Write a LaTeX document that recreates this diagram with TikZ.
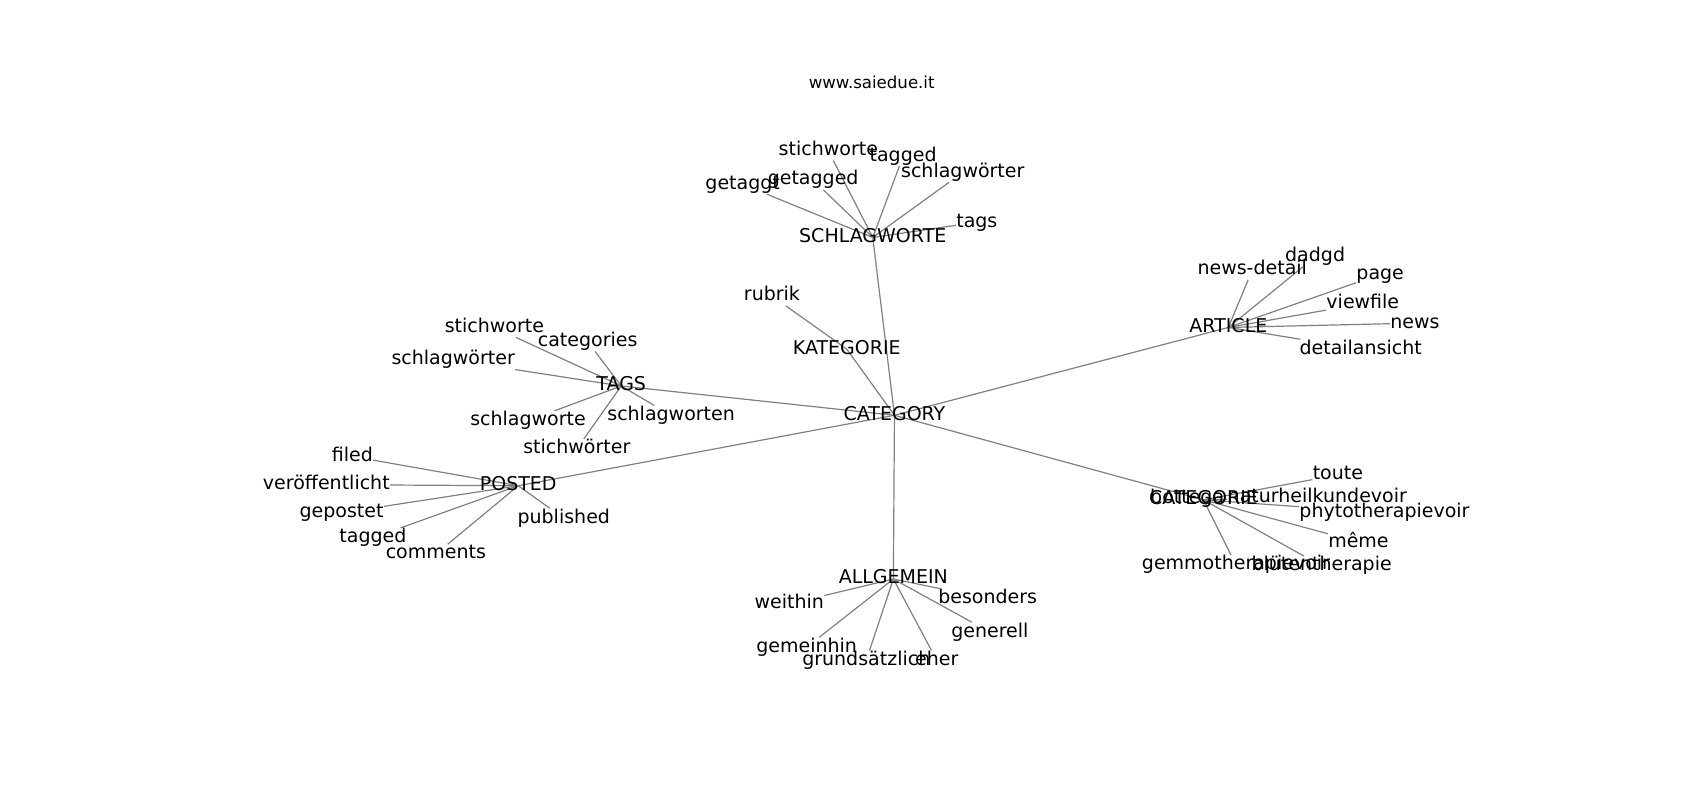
\documentclass[tikz,border=0pt]{standalone}
\usepackage{fontspec}
\setmainfont{DejaVu Sans}
\usetikzlibrary{backgrounds}
\begin{document}
\begin{tikzpicture}[x=0.5421pt,y=-0.5421pt,
  lbl/.style={font=\fontsize{9.5}{11}\selectfont, inner sep=0pt, text height=7.2pt, text depth=2.3pt, anchor=center, yshift=-1.1pt},
  ttl/.style={font=\fontsize{8.3}{10}\selectfont, inner sep=0pt, anchor=center},
  edge/.style={draw=black!50, line width=0.6pt}]
\useasboundingbox (0,0) rectangle (1568,738);
\node[ttl] (title) at (804,76) {www.saiedue.it};
% hubs
\node[lbl] (CAT) at (825,381) {CATEGORY};
\node[lbl] (SCH) at (805,217) {SCHLAGWORTE};
\node[lbl] (KAT) at (781,320) {KATEGORIE};
\node[lbl] (TAGS) at (573,354) {TAGS};
\node[lbl] (POS) at (478,446) {POSTED};
\node[lbl] (ART) at (1133,300) {ARTICLE};
\node[lbl] (CTG) at (1110,459) {CATEGORIE};
\node[lbl] (ALL) at (824,532) {ALLGEMEIN};
% SCHLAGWORTE leaves
\node[lbl] (s1) at (764,137) {stichworte};
\node[lbl] (s2) at (833,142) {tagged};
\node[lbl] (s3) at (750,164) {getagged};
\node[lbl] (s4) at (888,157) {schlagwörter};
\node[lbl] (s5) at (685,168) {getaggt};
\node[lbl] (s6) at (901,203) {tags};
% KATEGORIE leaf
\node[lbl] (k1) at (712,271) {rubrik};
% TAGS leaves
\node[lbl] (t1) at (456,300) {stichworte};
\node[lbl] (t2) at (542,313) {categories};
\node[lbl] (t3) at (418,330) {schlagwörter};
\node[lbl] (t4) at (487,386) {schlagworte};
\node[lbl] (t5) at (619,381) {schlagworten};
\node[lbl] (t6) at (532,412) {stichwörter};
% POSTED leaves
\node[lbl] (p1) at (325,419) {filed};
\node[lbl] (p2) at (301,445) {veröffentlicht};
\node[lbl] (p3) at (315,471) {gepostet};
\node[lbl] (p4) at (344,494) {tagged};
\node[lbl] (p5) at (402,509) {comments};
\node[lbl] (p6) at (520,476) {published};
% ARTICLE leaves
\node[lbl] (a1) at (1155,247) {news-detail};
\node[lbl] (a2) at (1213,235) {dadgd};
\node[lbl] (a3) at (1273,251) {page};
\node[lbl] (a4) at (1257,278) {viewfile};
\node[lbl] (a5) at (1305,296) {news};
\node[lbl] (a6) at (1255,320) {detailansicht};
% CATEGORIE leaves
\node[lbl] (c0) at (1095,458) {bottega};
\node[lbl] (c1) at (1234,436) {toute};
\node[lbl] (c2) at (1215,457) {naturheilkundevoir};
\node[lbl] (c3) at (1277,471) {phytotherapievoir};
\node[lbl] (c4) at (1253,498) {même};
\node[lbl] (c5) at (1140,519) {gemmotherapievoir};
\node[lbl] (c6) at (1219,520) {blütentherapie};
% ALLGEMEIN leaves
\node[lbl] (g1) at (728,555) {weithin};
\node[lbl] (g2) at (911,550) {besonders};
\node[lbl] (g3) at (913,581) {generell};
\node[lbl] (g4) at (744,595) {gemeinhin};
\node[lbl] (g5) at (799,607) {grundsätzlich};
\node[lbl] (g6) at (864,607) {eher};
\begin{scope}[on background layer]
\foreach \h in {SCH,KAT,TAGS,POS,ART,CTG,ALL} \draw[edge] (CAT.center) -- (\h.center);
\draw[edge] (KAT.center) -- (k1);
\foreach \l in {s1,s2,s3,s4,s5,s6} \draw[edge] (SCH.center) -- (\l);
\foreach \l in {t1,t2,t3,t4,t5,t6} \draw[edge] (TAGS.center) -- (\l);
\foreach \l in {p1,p2,p3,p4,p5,p6} \draw[edge] (POS.center) -- (\l);
\foreach \l in {a1,a2,a3,a4,a5,a6} \draw[edge] (ART.center) -- (\l);
\foreach \l in {c1,c2,c3,c4,c5,c6} \draw[edge] (CTG.center) -- (\l);
\foreach \l in {g1,g2,g3,g4,g5,g6} \draw[edge] (ALL.center) -- (\l);
\end{scope}
\end{tikzpicture}
\end{document}
